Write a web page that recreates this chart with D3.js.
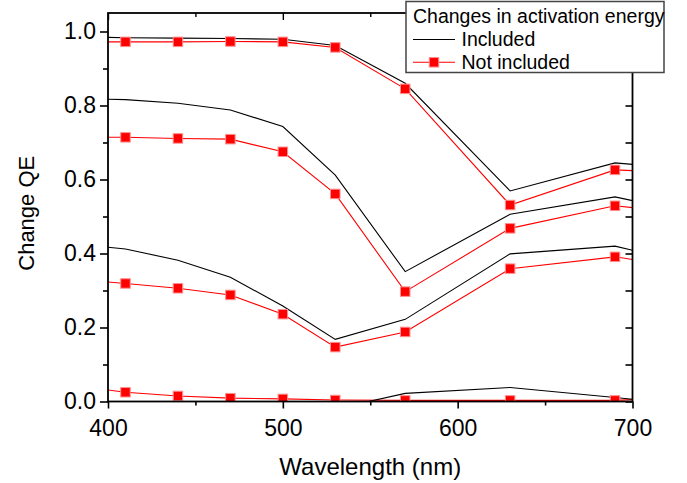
<!DOCTYPE html>
<html>
<head>
<meta charset="utf-8">
<script src="https://cdn.jsdelivr.net/npm/d3@7/dist/d3.min.js"></script>
<style>
  html, body { margin: 0; padding: 0; background: #fff; }
  svg { display: block; font-family: "Liberation Sans", Arial, sans-serif; }
</style>
</head>
<body>
<svg id="chart" width="687" height="483"></svg>
<script>
// ---- data ----
const wavelengths = [400, 410, 440, 470, 500, 530, 570, 630, 690, 700];
const markerWavelengths = [410, 440, 470, 500, 530, 570, 630, 690];

const included1    = [0.984, 0.983, 0.982, 0.981, 0.979, 0.962, 0.860, 0.569, 0.645, 0.641];
const notIncluded1 = [0.972, 0.972, 0.972, 0.973, 0.972, 0.957, 0.845, 0.531, 0.626, 0.624];
const included2    = [0.817, 0.816, 0.806, 0.788, 0.743, 0.612, 0.351, 0.506, 0.553, 0.543];
const notIncluded2 = [0.714, 0.714, 0.711, 0.709, 0.675, 0.561, 0.297, 0.468, 0.529, 0.524];
const included3    = [0.417, 0.412, 0.382, 0.336, 0.258, 0.168, 0.222, 0.399, 0.420, 0.409];
const notIncluded3 = [0.323, 0.319, 0.306, 0.288, 0.236, 0.147, 0.188, 0.359, 0.391, 0.384];
const included4    = [-0.02, -0.02, -0.02, -0.02, -0.02, -0.02, 0.022, 0.038, 0.011, 0.006];
const notIncluded4 = [0.031, 0.025, 0.015, 0.009, 0.007, 0.004, 0.003, 0.003, 0.003, 0.005];

const includedSeries = [included1, included2, included3, included4];
const notIncludedSeries = [notIncluded1, notIncluded2, notIncluded3, notIncluded4];

const xTicks = [400, 500, 600, 700];
const xMinorTicks = [450, 550, 650];
const yTicks = [0.0, 0.2, 0.4, 0.6, 0.8, 1.0];
const yMinorTicks = [0.1, 0.3, 0.5, 0.7, 0.9];

const xTitle = "Wavelength (nm)";
const yTitle = "Change QE";
const legendTitle = "Changes in activation energy";
const legendLabels = ["Included", "Not included"];

// ---- layout ----
const svg = d3.select("#chart");
const L = 108, R = 632.5, T = 13, B = 401.5;
const x = d3.scaleLinear().domain([400, 700]).range([L, R]);
const y = d3.scaleLinear().domain([0, 1.05]).range([B, T]);

svg.append("defs").append("clipPath").attr("id", "plotClip")
  .append("rect").attr("x", L).attr("y", T).attr("width", R - L).attr("height", B - T);

const plot = svg.append("g").attr("clip-path", "url(#plotClip)");
const line = d3.line().x((d, i) => x(wavelengths[i])).y(d => y(d));

// red series (not included)
notIncludedSeries.forEach(s => {
  plot.append("path").attr("d", line(s))
    .attr("fill", "none").attr("stroke", "#ff0000").attr("stroke-width", 1.1);
});
// black series (included)
includedSeries.forEach(s => {
  plot.append("path").attr("d", line(s))
    .attr("fill", "none").attr("stroke", "#000").attr("stroke-width", 1.1);
});
// markers
const ms = 9.5;
notIncludedSeries.forEach(s => {
  const pts = wavelengths.map((w, i) => ({ w, v: s[i] })).filter(p => markerWavelengths.includes(p.w));
  plot.selectAll(null).data(pts).enter().append("rect")
    .attr("x", d => x(d.w) - ms / 2).attr("y", d => y(d.v) - ms / 2)
    .attr("width", ms).attr("height", ms)
    .attr("fill", "#ff0000").attr("stroke", "#ff9090").attr("stroke-width", 1);
});

// ---- axes ----
const ax = svg.append("g");
// bottom
ax.append("g").attr("transform", `translate(0,${B})`)
  .call(d3.axisBottom(x).tickValues(xTicks).tickSize(7).tickPadding(7).tickFormat(d3.format("d")))
  .call(g => g.select(".domain").remove())
  .call(g => g.selectAll("line").attr("stroke-width", 1.6))
  .call(g => g.selectAll("text").attr("font-size", 23).attr("fill", "#000").attr("dy", "0.9em"));
ax.append("g").attr("transform", `translate(0,${B})`)
  .call(d3.axisBottom(x).tickValues(xMinorTicks).tickSize(4).tickFormat(""))
  .call(g => g.select(".domain").remove())
  .call(g => g.selectAll("line").attr("stroke-width", 1.6));
// top (inward)
ax.append("g").attr("transform", `translate(0,${T})`)
  .call(d3.axisBottom(x).tickValues(xTicks).tickSize(7).tickFormat(""))
  .call(g => g.select(".domain").remove())
  .call(g => g.selectAll("line").attr("stroke-width", 1.4));
ax.append("g").attr("transform", `translate(0,${T})`)
  .call(d3.axisBottom(x).tickValues(xMinorTicks).tickSize(4).tickFormat(""))
  .call(g => g.select(".domain").remove())
  .call(g => g.selectAll("line").attr("stroke-width", 1.4));
// left
ax.append("g").attr("transform", `translate(${L},0)`)
  .call(d3.axisLeft(y).tickValues(yTicks).tickSize(8).tickPadding(4).tickFormat(d3.format(".1f")))
  .call(g => g.select(".domain").remove())
  .call(g => g.selectAll("line").attr("stroke-width", 1.6))
  .call(g => g.selectAll("text").attr("font-size", 23).attr("fill", "#000"));
ax.append("g").attr("transform", `translate(${L},0)`)
  .call(d3.axisLeft(y).tickValues(yMinorTicks).tickSize(5).tickFormat(""))
  .call(g => g.select(".domain").remove())
  .call(g => g.selectAll("line").attr("stroke-width", 1.6));
// right (inward)
ax.append("g").attr("transform", `translate(${R},0)`)
  .call(d3.axisLeft(y).tickValues(yTicks.concat(yMinorTicks)).tickSize(7).tickFormat(""))
  .call(g => g.select(".domain").remove())
  .call(g => g.selectAll("line").attr("stroke-width", 1.6));
// frame
ax.append("rect").attr("x", L).attr("y", T).attr("width", R - L).attr("height", B - T)
  .attr("fill", "none").attr("stroke", "#000").attr("stroke-width", 1.8);

// titles
svg.append("text").attr("x", (L + R) / 2).attr("y", 475)
  .attr("text-anchor", "middle").attr("font-size", 24).text(xTitle);
svg.append("text").attr("transform", `translate(34,${(T + B) / 2 + 6}) rotate(-90)`)
  .attr("text-anchor", "middle").attr("font-size", 22).text(yTitle);

// ---- legend ----
const lg = svg.append("g");
lg.append("rect").attr("x", 406).attr("y", 1.5).attr("width", 258).attr("height", 71)
  .attr("fill", "#fff").attr("stroke", "#444").attr("stroke-width", 1.5);
lg.append("text").attr("x", 413).attr("y", 22.7).attr("font-size", 19.5).text(legendTitle);
lg.append("line").attr("x1", 413).attr("x2", 455).attr("y1", 39.5).attr("y2", 39.5)
  .attr("stroke", "#000").attr("stroke-width", 1.1);
lg.append("text").attr("x", 461.5).attr("y", 45.7).attr("font-size", 19.5).text(legendLabels[0]);
lg.append("line").attr("x1", 413).attr("x2", 455).attr("y1", 62.3).attr("y2", 62.3)
  .attr("stroke", "#ff0000").attr("stroke-width", 1.1);
lg.append("rect").attr("x", 434 - ms / 2).attr("y", 62.3 - ms / 2).attr("width", ms).attr("height", ms)
  .attr("fill", "#ff0000").attr("stroke", "#ff9090").attr("stroke-width", 1);
lg.append("text").attr("x", 461.5).attr("y", 68.5).attr("font-size", 19.5).text(legendLabels[1]);
</script>
</body>
</html>
